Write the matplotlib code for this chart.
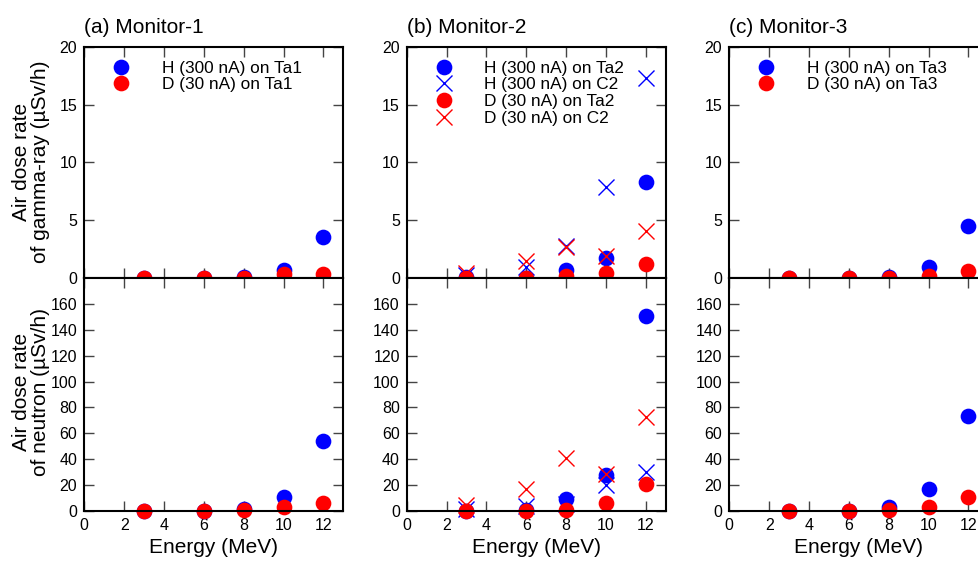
import numpy as np
import matplotlib
matplotlib.use('Agg')
import matplotlib.pyplot as plt

plt.rcParams['font.family'] = ['Liberation Sans', 'DejaVu Sans']

# energies (MeV)
energy = [3, 6, 8, 10, 12]

# Monitor-1
gam1_h_ta = [0.0, 0.0, 0.1, 0.7, 3.6]
gam1_d_ta = [0.0, 0.0, 0.05, 0.35, 0.35]
neu1_h_ta = [0.0, 0.0, 1.5, 10.3, 53.8]
neu1_d_ta = [0.0, 0.0, 0.3, 2.6, 5.7]

# Monitor-2
gam2_h_ta = [0.1, 0.05, 0.72, 1.78, 8.3]
gam2_h_c = [0.3, 1.0, 2.8, 7.86, 17.27]
gam2_d_ta = [0.05, 0.05, 0.2, 0.43, 1.24]
gam2_d_c = [0.5, 1.5, 2.73, 1.96, 4.1]
neu2_h_ta = [0.0, 0.5, 9.0, 28.0, 151.0]
neu2_h_c = [1.0, 3.9, 5.0, 19.8, 29.6]
neu2_d_ta = [0.0, 0.0, 0.5, 6.2, 20.3]
neu2_d_c = [4.4, 16.7, 40.9, 28.8, 72.5]

# Monitor-3
gam3_h_ta = [0.05, 0.0, 0.1, 1.0, 4.55]
gam3_d_ta = [0.0, 0.0, 0.05, 0.2, 0.66]
neu3_h_ta = [0.0, 0.0, 2.6, 16.7, 73.6]
neu3_d_ta = [0.0, 0.0, 0.3, 3.1, 10.8]

titles = ['(a) Monitor-1', '(b) Monitor-2', '(c) Monitor-3']

W, H = 979, 562
fig = plt.figure(figsize=(W / 100, H / 100), dpi=100)

lefts = [84.3, 406.7, 729.3]
aw = 259.0
top_px, mid_px, bot_px = 46.7, 278.3, 510.7

circ = dict(marker='o', ms=11.3, ls='none', mew=0)
cross = dict(marker='x', ms=11, ls='none', mew=1.0)


def style(ax):
    for s in ax.spines.values():
        s.set_linewidth(1.5)
    ax.set_xlim(0, 13)
    ax.set_xticks(np.arange(0, 13, 2))
    ax.tick_params(direction='in', length=7, width=1, color='#444444',
                   top=True, right=True, labelsize=11.5, pad=5)


for i in range(3):
    l = lefts[i] / W
    up = fig.add_axes([l, 1 - mid_px / H, aw / W, (mid_px - top_px) / H])
    lo = fig.add_axes([l, 1 - bot_px / H, aw / W, (bot_px - mid_px) / H])
    for ax in (up, lo):
        style(ax)
    up.set_ylim(0, 20)
    up.set_yticks([0, 5, 10, 15, 20])
    up.tick_params(labelbottom=False)
    lo.set_ylim(0, 180)
    lo.set_yticks(np.arange(0, 161, 20))
    lo.set_xlabel('Energy (MeV)', fontsize=15, labelpad=4)
    up.set_title(titles[i], loc='left', fontsize=15, pad=10)

    if i == 0:
        up.plot(energy, gam1_h_ta, color='blue', label='H (300 nA) on Ta1', **circ)
        up.plot(energy, gam1_d_ta, color='red', label='D (30 nA) on Ta1', **circ)
        lo.plot(energy, neu1_h_ta, color='blue', **circ)
        lo.plot(energy, neu1_d_ta, color='red', **circ)
    elif i == 1:
        up.plot(energy, gam2_h_ta, color='blue', label='H (300 nA) on Ta2', **circ)
        up.plot(energy, gam2_h_c, color='blue', label='H (300 nA) on C2', **cross)
        up.plot(energy, gam2_d_ta, color='red', label='D (30 nA) on Ta2', **circ)
        up.plot(energy, gam2_d_c, color='red', label='D (30 nA) on C2', **cross)
        lo.plot(energy, neu2_h_ta, color='blue', **circ)
        lo.plot(energy, neu2_h_c, color='blue', **cross)
        lo.plot(energy, neu2_d_ta, color='red', **circ)
        lo.plot(energy, neu2_d_c, color='red', **cross)
    else:
        up.plot(energy, gam3_h_ta, color='blue', label='H (300 nA) on Ta3', **circ)
        up.plot(energy, gam3_d_ta, color='red', label='D (30 nA) on Ta3', **circ)
        lo.plot(energy, neu3_h_ta, color='blue', **circ)
        lo.plot(energy, neu3_d_ta, color='red', **circ)

    for ax in (up, lo):
        for ln in ax.lines:
            ln.set_clip_on(False)

    up.legend(loc='upper left', bbox_to_anchor=(0.04, 1.0), frameon=False,
              fontsize=12.4, handlelength=1.5, handletextpad=1.6,
              labelspacing=0.1, borderpad=0.3, borderaxespad=0.5)

fig.text(31 / W, 1 - 162 / H, 'Air dose rate\nof gamma-ray (µSv/h)', rotation=90,
         ha='center', va='center', fontsize=15, linespacing=1.0, multialignment='center')
fig.text(31 / W, 1 - 392 / H, 'Air dose rate\nof neutron (µSv/h)', rotation=90,
         ha='center', va='center', fontsize=15, linespacing=1.0, multialignment='center')

fig.savefig('out.png', dpi=100)
